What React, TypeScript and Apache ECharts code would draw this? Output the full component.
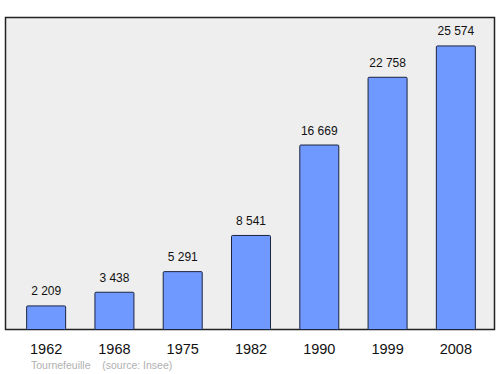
import React, { useEffect, useRef } from "react";
import * as echarts from "echarts";

const years = ["1962", "1968", "1975", "1982", "1990", "1999", "2008"];
const population = [2209, 3438, 5291, 8541, 16669, 22758, 25574];
const sourceText = "Tournefeuille    (source: Insee)";

const fmt = (v: number) => {
  const s = String(v);
  return s.replace(/\B(?=(\d{3})+(?!\d))/g, " ");
};

export default function App() {
  const ref = useRef<HTMLDivElement>(null);
  useEffect(() => {
    if (!ref.current) return;
    const chart = echarts.init(ref.current, null, { renderer: "svg" });
    chart.setOption({
      animation: false,
      textStyle: { fontFamily: "Liberation Sans, Arial, sans-serif" },
      graphic: [
        {
          type: "rect",
          z: -10,
          shape: { x: 5.5, y: 17.5, width: 489, height: 312 },
          style: { fill: "#eeeeee", stroke: "#222222", lineWidth: 1.5 },
        },
        {
          type: "text",
          left: 31,
          top: 359,
          style: {
            text: sourceText,
            fill: "#b0b0b0",
            font: "10.5px Liberation Sans, Arial, sans-serif",
          },
        },
      ],
      grid: { left: 12, right: 10, top: 17, bottom: 44 },
      xAxis: {
        type: "category",
        data: years,
        axisLine: { show: false },
        axisTick: { show: false },
        axisLabel: {
          color: "#111",
          fontSize: 14.5,
          margin: 11,
          fontFamily: "Liberation Sans, Arial, sans-serif",
        },
      },
      yAxis: {
        type: "value",
        min: 0,
        max: 28130,
        show: false,
        splitLine: { show: false },
      },
      series: [
        {
          type: "bar",
          data: population,
          barWidth: 40,
          itemStyle: {
            color: "#7099ff",
            borderColor: "#1a2340",
            borderWidth: 1,
            borderRadius: 1,
          },
          label: {
            show: true,
            position: "top",
            distance: 8,
            color: "#111",
            fontSize: 12,
            fontFamily: "Liberation Sans, Arial, sans-serif",
            formatter: (p: any) => fmt(p.value),
          },
        },
      ],
    });
    return () => chart.dispose();
  }, []);
  return <div ref={ref} style={{ width: 500, height: 374, position: "absolute", left: 0, top: 0 }} />;
}
